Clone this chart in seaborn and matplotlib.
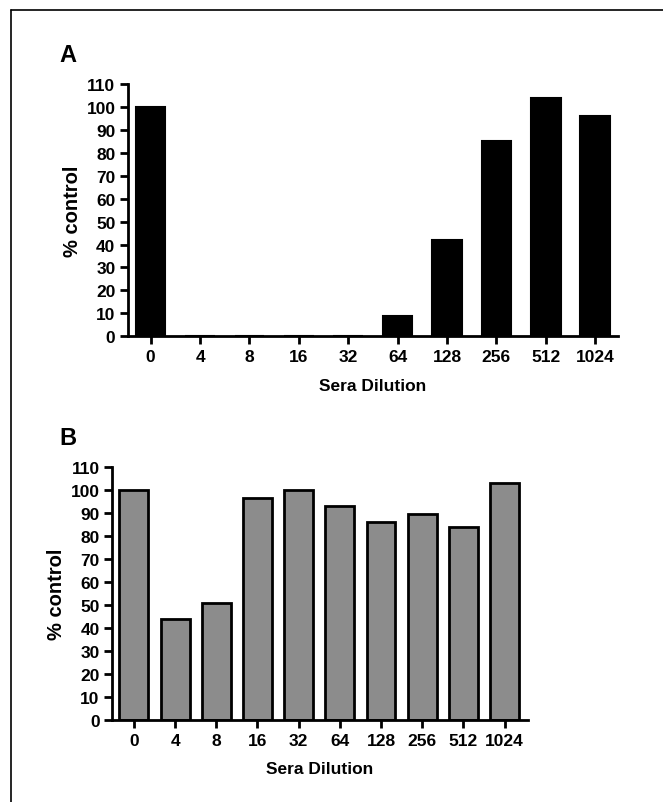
import matplotlib
matplotlib.use("Agg")
import matplotlib.pyplot as plt
import seaborn as sns
from matplotlib.lines import Line2D

# datos
diluciones = ['0', '4', '8', '16', '32', '64', '128', '256', '512', '1024']
valores_a = [100, 0, 0, 0, 0, 9, 42, 85, 104, 96]
valores_b = [100, 44, 51, 96.5, 100, 93, 86, 89.5, 84, 103]

sns.set_style("ticks")
plt.rcParams['font.family'] = ['Liberation Sans', 'DejaVu Sans']
plt.rcParams['font.weight'] = 'bold'
plt.rcParams['axes.labelweight'] = 'bold'
plt.rcParams['text.color'] = 'black'
plt.rcParams['axes.labelcolor'] = 'black'

fig = plt.figure(figsize=(6.63, 8.03), dpi=100)

ax_a = fig.add_axes([0.193, 0.580, 0.739, 0.314])
ax_b = fig.add_axes([0.169, 0.102, 0.627, 0.315])


def estilo(ax, xlim):
    ax.set_ylim(0, 110)
    ax.set_xlim(*xlim)
    ax.set_yticks(range(0, 111, 10))
    ax.set_ylabel('% control', fontsize=14.5, fontweight='bold', labelpad=3)
    ax.set_xlabel('Sera Dilution', fontsize=12.5, fontweight='bold', labelpad=10)
    for lado in ['top', 'right']:
        ax.spines[lado].set_visible(False)
    for lado in ['left', 'bottom']:
        ax.spines[lado].set_linewidth(2)
        ax.spines[lado].set_color('black')
    ax.tick_params(axis='both', width=2, length=6, labelsize=12.5,
                   colors='black', pad=3)
    for t in ax.get_xticklabels() + ax.get_yticklabels():
        t.set_fontweight('bold')


# ==============================================================================
# PANEL A
# ==============================================================================
sns.barplot(x=diluciones, y=valores_a, color='black', width=0.6,
            edgecolor='black', linewidth=1.5, saturation=1, ax=ax_a)
estilo(ax_a, (-0.46, 9.46))
fig.text(0.09, 0.923, 'A', fontsize=17, fontweight='bold')

# ==============================================================================
# PANEL B
# ==============================================================================
sns.barplot(x=diluciones, y=valores_b, color='#8c8c8c', width=0.7,
            edgecolor='black', linewidth=2, saturation=1, ax=ax_b)
estilo(ax_b, (-0.53, 9.56))
fig.text(0.09, 0.446, 'B', fontsize=17, fontweight='bold')

# marco (solo arriba e izquierda)
fig.add_artist(Line2D([11 / 663, 1], [1 - 11 / 803, 1 - 11 / 803],
                      transform=fig.transFigure, color='black', lw=1.2))
fig.add_artist(Line2D([11 / 663, 11 / 663], [0, 1 - 11 / 803],
                      transform=fig.transFigure, color='black', lw=1.2))

fig.savefig('out.png', dpi=100)
